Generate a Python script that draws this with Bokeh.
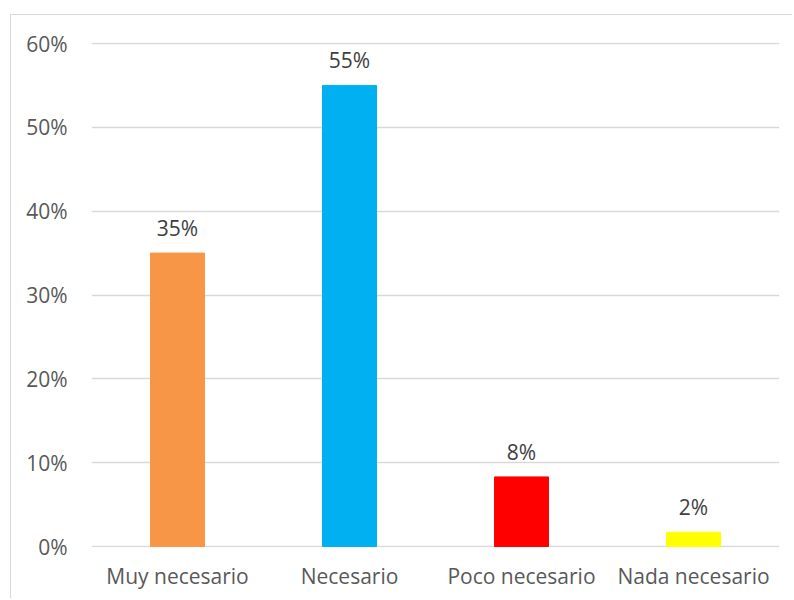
from bokeh.plotting import figure
from bokeh.models import ColumnDataSource, NumeralTickFormatter, FixedTicker, Range1d
from bokeh.core.properties import value
from bokeh.embed import file_html
from bokeh.resources import INLINE

categories = ["Muy necesario", "Necesario", "Poco necesario", "Nada necesario"]
values = [0.35, 0.55, 0.083, 0.017]
labels = ["35%", "55%", "8%", "2%"]
colors = ["#F79646", "#00B0F0", "#FF0000", "#FFFF00"]
y_ticks = [0, 0.1, 0.2, 0.3, 0.4, 0.5, 0.6]

FONT = "Open Sans"
PAD = 0.6 / 503

source = ColumnDataSource(dict(cat=categories, val=values, lab=labels, col=colors))

p = figure(x_range=categories, y_range=Range1d(-PAD, 0.6 + PAD), width=782, height=584,
           output_backend="svg", toolbar_location=None,
           min_border_left=80, min_border_right=14, min_border_top=27, min_border_bottom=52)
p.margin = (14, 0, 0, 10)
p.styles = {"border-left": "1px solid #d9d9d9", "border-top": "1px solid #d9d9d9"}

p.vbar(x="cat", top="val", width=0.314, color="col", source=source)
p.text(x="cat", y="val", text="lab", source=source, text_align="center",
       text_baseline="alphabetic", y_offset=-25, text_font=value(FONT),
       text_font_size="21px", text_color="#404040")

p.outline_line_color = None
p.xgrid.grid_line_color = None
p.ygrid.grid_line_color = "#d9d9d9"
p.ygrid.grid_line_width = 1.5
p.ygrid.ticker = FixedTicker(ticks=y_ticks)

p.yaxis.ticker = FixedTicker(ticks=y_ticks)
p.yaxis.formatter = NumeralTickFormatter(format="0%")
for ax in (p.xaxis[0], p.yaxis[0]):
    ax.axis_line_color = None
    ax.major_tick_line_color = None
    ax.minor_tick_line_color = None
    ax.major_label_text_font = FONT
    ax.major_label_text_font_size = "21px"
    ax.major_label_text_color = "#595959"
p.yaxis.major_label_standoff = 18
p.xaxis.major_label_standoff = 8

open("out.html", "w").write(file_html(p, INLINE))
